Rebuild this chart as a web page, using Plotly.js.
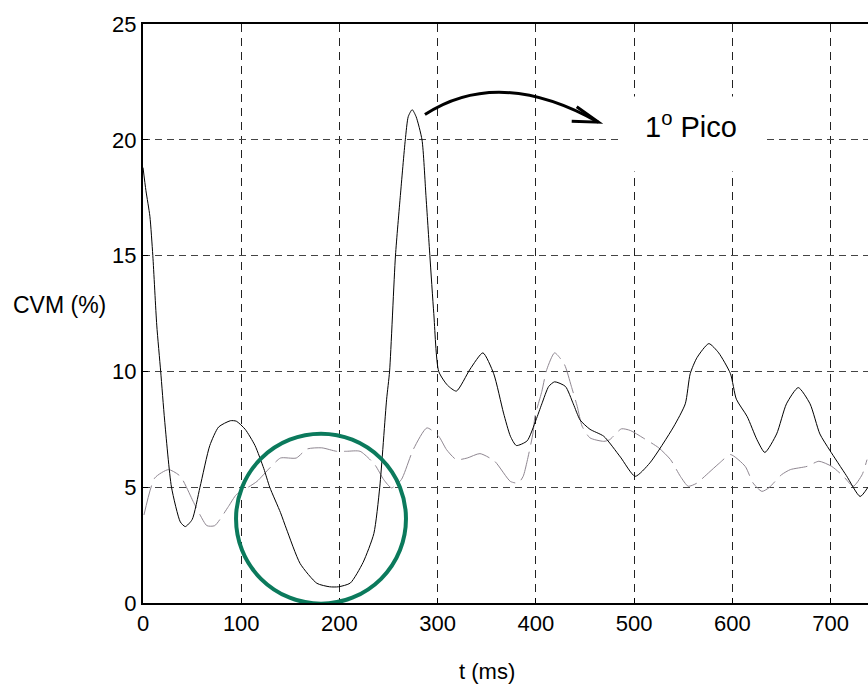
<!DOCTYPE html>
<html>
<head>
<meta charset="utf-8">
<script src="https://cdn.plot.ly/plotly-3.0.1.min.js"></script>
<style>html,body{margin:0;padding:0;background:#fff;}#chart{width:868px;height:686px;}</style>
</head>
<body>
<div id="chart"></div>
<script>
// Black series (CVM %)
const tBlack = [0,3,7,10,14,18,22,29,38,43,50,58,68,77,89,95,104,114,123,129,140,146,160,177,190,199,211,224,235,241,248,251,257,262,267,270,274,278,284,288,292,296,301,310,319,333,346,357,367,374,380,391,400,406,413,419,430,438,445,455,469,486,501,516,540,552,557,564,576,586,598,604,615,625,633,645,655,667,679,689,699,716,730,738];
const vBlack = [18.8,17.8,16.7,15,12,10,7.9,5,3.5,3.3,3.6,5,6.8,7.6,7.87,7.85,7.5,6.8,5.8,5,3.9,3.2,1.7,0.85,0.7,0.7,0.86,1.75,3,5,8.8,10,15,17.6,20,21,21.3,21,20,17.6,15,12.5,10,9.4,9.15,10.1,10.8,9.9,8.2,7.2,6.8,7,7.9,8.6,9.35,9.55,9.35,8.6,7.9,7.5,7.2,6.3,5.47,6.05,7.6,8.6,9.9,10.6,11.2,10.8,9.9,8.8,8.05,7.05,6.5,7.3,8.6,9.3,8.6,7.3,6.6,5.5,4.6,5.0];
// Grey dashed series
const tGrey = [1,12,26,38,51,58,65,73,87,95,106,116,129,140,156,167,182,197,207,221,236,245,253,263,275,289,301,309,319,330,343,358,374,382,387,391,397,399,406,411,419,429,436,442,447,455,469,475,487,496,509,525,537,547,555,564,570,587,598,613,621,630,637,650,659,676,688,701,713,723,732,737];
const vGrey = [3.8,5.4,5.76,5.47,4.39,3.81,3.34,3.34,4.17,4.68,4.97,5.25,5.83,6.26,6.26,6.65,6.7,6.55,6.55,6.55,5.97,5.33,4.97,5.33,6.62,7.56,7.2,6.62,6.19,6.26,6.45,6.12,5.25,5.18,5.47,6.12,7.34,8.06,9.14,10.08,10.8,10.3,9.36,8.49,7.63,7.13,6.98,7.05,7.52,7.45,7.13,6.7,6.19,5.47,5.04,5.18,5.4,6.05,6.41,5.9,5.18,4.82,4.97,5.54,5.76,5.9,6.12,5.9,5.47,5.04,5.54,6.19];
// Ticks
const xTicks = [0,100,200,300,400,500,600,700];
const yTicks = [0,5,10,15,20,25];

const font = 'Liberation Sans, Arial, sans-serif';

const traces = [
  {x: tGrey, y: vGrey, type: 'scatter', mode: 'lines',
   line: {color: '#8f8791', width: 1, dash: '30px,7px', shape: 'spline', smoothing: 0.6}, hoverinfo: 'skip'},
  {x: tBlack, y: vBlack, type: 'scatter', mode: 'lines',
   line: {color: '#000000', width: 1, shape: 'spline', smoothing: 0.6}, hoverinfo: 'skip'}
];

const layout = {
  width: 868, height: 686,
  margin: {l: 143, r: 0, t: 24, b: 83},
  paper_bgcolor: '#fff', plot_bgcolor: '#fff',
  showlegend: false,
  font: {family: font, size: 22, color: '#000'},
  xaxis: {
    range: [0, 738], tickvals: xTicks, ticktext: xTicks.map(String),
    showgrid: true, gridcolor: '#222', griddash: '8px,6px', gridwidth: 1,
    showline: true, linecolor: '#000', linewidth: 2, mirror: true,
    ticks: 'inside', ticklen: 5, tickcolor: '#000', tickwidth: 1,
    zeroline: false, tickfont: {family: font, size: 22, color: '#000'}
  },
  yaxis: {
    range: [0, 25], tickvals: yTicks, ticktext: yTicks.map(String),
    showgrid: true, gridcolor: '#444', griddash: '7px,5px', gridwidth: 1,
    showline: true, linecolor: '#000', linewidth: 2, mirror: false,
    ticks: 'inside', ticklen: 5, tickcolor: '#000', tickwidth: 1,
    zeroline: false, tickfont: {family: font, size: 22, color: '#000'}
  },
  shapes: [
    {type: 'rect', xref: 'x', yref: 'y', x0: 485.6, x1: 635.2, y0: 18.63, y1: 21.87,
     fillcolor: '#fff', line: {width: 0}, layer: 'between'},
    {type: 'circle', xref: 'x', yref: 'y', x0: 94.7, x1: 267.7, y0: -0.03, y1: 7.31,
     line: {color: '#0b7a5c', width: 4}, layer: 'above'},
    {type: 'path', xref: 'x', yref: 'y', path: 'M 287,21.09 Q 362.4,23.17 463.5,20.76',
     line: {color: '#000', width: 3}, layer: 'above'},
    {type: 'path', xref: 'x', yref: 'y', path: 'M 441.5,21.43 L 463.5,20.76 L 436.4,20.8',
     line: {color: '#000', width: 3}, layer: 'above'}
  ],
  annotations: [
    {text: '1<sup>o</sup> Pico', xref: 'x', yref: 'y', x: 557.9, y: 20.62,
     showarrow: false, font: {family: font, size: 29, color: '#000'}, xanchor: 'center', yanchor: 'middle'},
    {text: 'CVM (%)', xref: 'paper', yref: 'paper', x: -0.115, y: 0.515,
     showarrow: false, font: {family: font, size: 23, color: '#000'}, xanchor: 'center', yanchor: 'middle'},
    {text: 't (ms)', xref: 'paper', yref: 'paper', x: 0.4745, y: -0.118,
     showarrow: false, font: {family: font, size: 22, color: '#000'}, xanchor: 'center', yanchor: 'middle'}
  ]
};

Plotly.newPlot('chart', traces, layout, {displayModeBar: false, staticPlot: true});
</script>
</body>
</html>
